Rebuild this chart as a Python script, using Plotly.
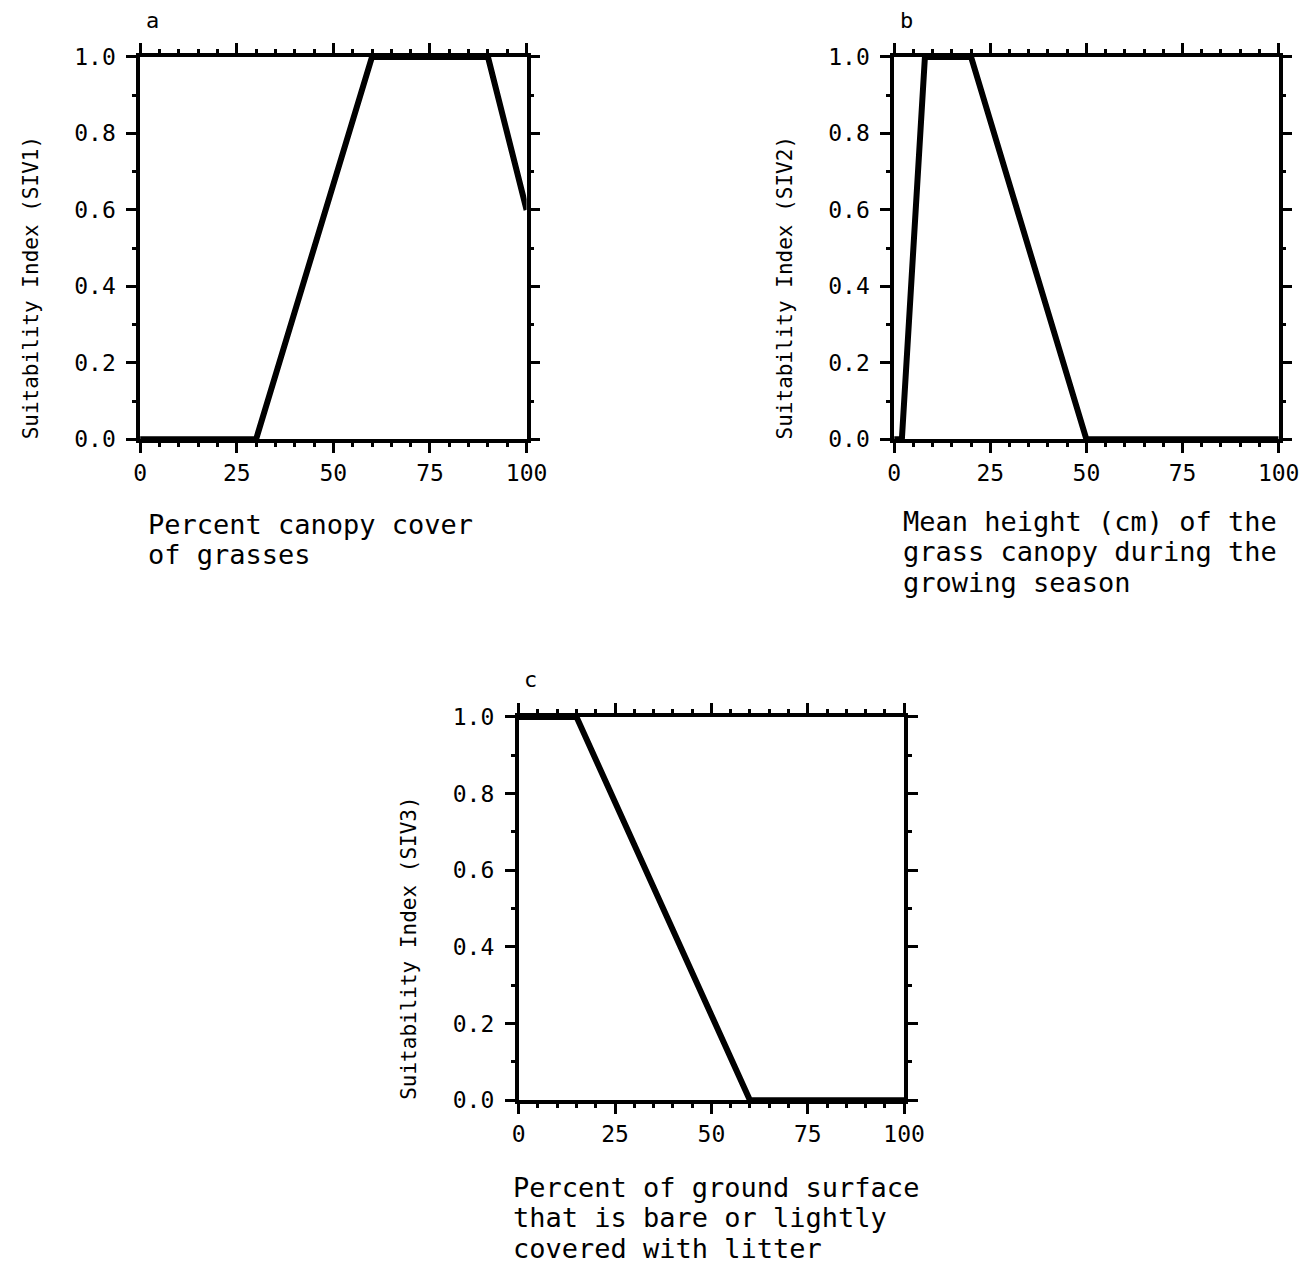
import plotly.graph_objects as go

# ---- data ----
a_x = [0, 30, 60, 90, 100]
a_y = [0.0, 0.0, 1.0, 1.0, 0.6]

b_x = [0, 2, 8, 20, 50, 100]
b_y = [0.0, 0.0, 1.0, 1.0, 0.0, 0.0]

c_x = [0, 15, 60, 100]
c_y = [1.0, 1.0, 0.0, 0.0]

x_ticks = [0, 25, 50, 75, 100]
y_ticks = [0.0, 0.2, 0.4, 0.6, 0.8, 1.0]
y_ticktext = ["0.0", "0.2", "0.4", "0.6", "0.8", "1.0"]

panel_letters = ["a", "b", "c"]
y_titles = ["Suitability Index (SIV1)", "Suitability Index (SIV2)", "Suitability Index (SIV3)"]
x_titles = [
    ["Percent canopy cover", "of grasses"],
    ["Mean height (cm) of the", "grass canopy during the", "growing season"],
    ["Percent of ground surface", "that is bare or lightly", "covered with litter"],
]

W, H = 1308, 1264
FONT = "DejaVu Sans Mono"

# observed rendering mapping (pixel = off + frac*span)
X_OFF, X_SPAN = 12.4, 1285.0
Y_OFF, Y_SPAN = 19.0, 1240.0


def fx(px):
    return (px - X_OFF) / X_SPAN


def fy(py):
    return 1 - (py - Y_OFF) / Y_SPAN


# plot-area pixel boxes (left, right, top, bottom)
boxes = [(138, 526, 55, 438), (895, 1281, 55, 438), (518, 905, 716, 1100)]
xtitle_left = [147, 905, 513]
xtitle_first = [523, 520, 1187]
line_gap = 30.5

fig = go.Figure()
series = [(a_x, a_y), (b_x, b_y), (c_x, c_y)]
for i, (xs, ys) in enumerate(series):
    sfx = "" if i == 0 else str(i + 1)
    fig.add_trace(go.Scatter(
        x=xs, y=ys, mode="lines",
        line=dict(color="black", width=6),
        xaxis="x" + sfx, yaxis="y" + sfx,
        showlegend=False, cliponaxis=False, hoverinfo="skip",
    ))

layout = dict(
    width=W, height=H,
    margin=dict(l=0, r=0, t=0, b=0),
    paper_bgcolor="white", plot_bgcolor="white",
    font=dict(family=FONT, color="black", size=21),
    annotations=[],
)

for i, (l, r, t, b) in enumerate(boxes):
    sfx = "" if i == 0 else str(i + 1)
    xd = [fx(l), fx(r)]
    yd = [fy(b), fy(t)]
    layout["xaxis" + sfx] = dict(
        domain=xd, range=[0, 100], anchor="y" + sfx,
        tickmode="array", tickvals=x_ticks,
        ticks="outside", ticklen=10, tickwidth=3, tickcolor="black",
        showline=True, linewidth=3.5, linecolor="black", mirror="allticks",
        showgrid=False, zeroline=False,
        tickfont=dict(family=FONT, size=23, color="black"),
        minor=dict(dtick=5, tick0=0, ticks="outside", ticklen=4, tickwidth=3,
                   tickcolor="black", showgrid=False),
        fixedrange=True,
    )
    layout["yaxis" + sfx] = dict(
        domain=yd, range=[0, 1], anchor="x" + sfx,
        tickmode="array", tickvals=y_ticks, ticktext=y_ticktext,
        ticks="outside", ticklen=10, tickwidth=3, tickcolor="black",
        showline=True, linewidth=3.5, linecolor="black", mirror="allticks",
        showgrid=False, zeroline=False, ticklabelstandoff=6,
        tickfont=dict(family=FONT, size=23, color="black"),
        minor=dict(dtick=0.1, tick0=0, ticks="outside", ticklen=4, tickwidth=3,
                   tickcolor="black", showgrid=False),
        fixedrange=True,
    )
    # panel letter
    layout["annotations"].append(dict(
        text=panel_letters[i], xref="paper", yref="paper",
        x=fx(l + 12), y=fy(t - 37), xanchor="center", yanchor="middle",
        showarrow=False, font=dict(family=FONT, size=22, color="black"),
    ))
    # y title
    layout["annotations"].append(dict(
        text=y_titles[i], xref="paper", yref="paper",
        x=fx(l - 110), y=fy(b + 2), xanchor="center", yanchor="bottom",
        textangle=-90, showarrow=False,
        font=dict(family=FONT, size=21, color="black"),
    ))
    # x title lines
    for k, line in enumerate(x_titles[i]):
        layout["annotations"].append(dict(
            text=line, xref="paper", yref="paper",
            x=fx(xtitle_left[i] - 3), y=fy(xtitle_first[i] + k * line_gap),
            xanchor="left", yanchor="middle", align="left",
            showarrow=False,
            font=dict(family=FONT, size=27, color="black"),
        ))

fig.update_layout(**layout)
fig.write_html("out.html")
